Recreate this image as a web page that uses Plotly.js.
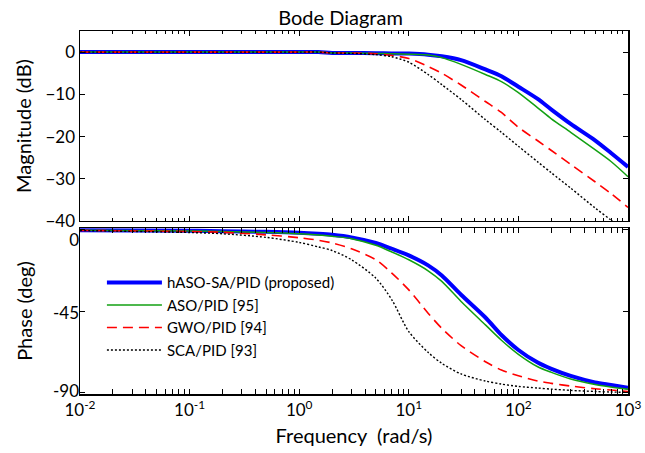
<!DOCTYPE html>
<html>
<head>
<meta charset="utf-8">
<script src="https://cdn.plot.ly/plotly-3.0.1.min.js"></script>
<style>html,body{margin:0;padding:0;background:#fff;}#chart{width:645px;height:453px;}</style>
</head>
<body>
<div id="chart"></div>
<script>
// Frequencies (rad/s)
const freq = [0.01, 0.1, 0.2, 0.5, 1, 1.5, 2, 3, 5, 7, 10, 15, 20, 30, 50, 70, 100, 150, 200, 300, 500, 700, 1000];

// Magnitude (dB)
const magHASO = [0, 0, 0, 0, 0, 0, -0.2, -0.2, -0.25, -0.3, -0.35, -0.6, -1.0, -1.9, -4.1, -5.7, -8.2, -11.1, -13.6, -17.0, -20.9, -23.9, -27.2];
const magASO  = [0, 0, 0, 0, 0, 0, -0.2, -0.2, -0.3, -0.4, -0.5, -0.7, -1.3, -2.9, -5.3, -7.0, -9.6, -13.2, -15.8, -19.0, -23.1, -25.9, -29.5];
const magGWO  = [0, 0, 0, 0, 0, 0, -0.2, -0.2, -0.4, -0.8, -1.5, -3.4, -5.0, -7.8, -11.7, -14.3, -17.8, -21.0, -23.3, -26.6, -30.7, -33.5, -36.8];
const magSCA  = [0, 0, 0, 0, 0, 0, -0.2, -0.3, -0.6, -1.1, -2.4, -5.3, -7.7, -11.2, -16.0, -19.0, -22.3, -26.0, -28.6, -32.2, -36.9, -39.8, -43.0];

// Phase (deg)
const phHASO = [-0.2, -0.5, -0.8, -1.1, -1.6, -2.2, -2.8, -4.2, -7.3, -10.5, -14.2, -19.7, -25.3, -36.0, -48.6, -58.3, -66.6, -73.6, -77.1, -81.0, -84.6, -86.0, -87.5];
const phASO  = [-0.2, -0.6, -1.0, -1.5, -2.2, -2.9, -3.6, -4.9, -8.6, -12.3, -16.6, -22.7, -28.6, -39.7, -52.7, -61.2, -69.0, -75.9, -79.0, -82.7, -85.7, -87.1, -88.4];
const phGWO  = [-0.3, -1.0, -1.4, -2.8, -4.4, -5.8, -7.3, -10.5, -16.6, -24.0, -33.3, -46.2, -54.6, -64.2, -73.1, -77.7, -80.9, -83.8, -85.1, -86.6, -88.1, -88.8, -89.6];
const phSCA  = [-0.4, -1.5, -2.2, -4.2, -7.0, -9.5, -11.5, -16.6, -26.8, -38.8, -56.4, -67.9, -74.0, -79.9, -83.8, -85.5, -86.8, -87.7, -88.3, -89.0, -89.6, -89.9, -90.1];

const seriesNames = ['hASO-SA/PID (proposed)', 'ASO/PID [95]', 'GWO/PID [94]', 'SCA/PID [93]'];
const xTickVals = [0.01, 0.1, 1, 10, 100, 1000];
const xTickText = ['10<sup>-2</sup>', '10<sup>-1</sup>', '10<sup>0</sup>', '10<sup>1</sup>', '10<sup>2</sup>', '10<sup>3</sup>'];
const magTicks = [0, -10, -20, -30, -40];
const phaseTicks = [0, -45, -90];
const phaseTickText = ['0', '-45', '-90'];
// label anchor positions (slightly inset from the ticks, as in the reference)
const phaseLabelPos = [-5.5, -46, -89.3];

const styles = [
  {color: '#0000ff', width: 4, dash: 'solid'},
  {color: '#12a012', width: 1.5, dash: 'solid'},
  {color: '#ff0000', width: 1.6, dash: '10px,6px'},
  {color: '#000000', width: 1.4, dash: '2px,2px'}
];
const mags = [magHASO, magASO, magGWO, magSCA];
const phases = [phHASO, phASO, phGWO, phSCA];

const traces = [];
mags.forEach((m, i) => traces.push({
  x: freq, y: m, xaxis: 'x', yaxis: 'y', type: 'scatter', mode: 'lines',
  line: Object.assign({shape: 'spline', smoothing: 0.8}, styles[i]),
  name: seriesNames[i], showlegend: false, hoverinfo: 'skip'
}));
phases.forEach((p, i) => traces.push({
  x: freq, y: p, xaxis: 'x2', yaxis: 'y2', type: 'scatter', mode: 'lines',
  line: Object.assign({shape: 'spline', smoothing: 0.8}, styles[i]),
  name: seriesNames[i], showlegend: true, hoverinfo: 'skip'
}));
// empty helper trace so the label-only overlay axis is drawn
traces.push({x: [], y: [], xaxis: 'x2', yaxis: 'y3', type: 'scatter', mode: 'lines', showlegend: false, hoverinfo: 'skip'});

const minorVals = [];
for (let e = -2; e < 3; e++) for (let k = 2; k <= 9; k++) minorVals.push(k * Math.pow(10, e));

const FONT = 'Lato, "Open Sans", sans-serif';
const xCommon = {
  type: 'log', range: [-2, 3], showgrid: false, zeroline: false,
  showline: true, linecolor: '#000', linewidth: 1.5, mirror: 'allticks',
  ticks: 'inside', ticklen: 5, tickcolor: '#000', tickwidth: 1,
  tickmode: 'array', tickvals: xTickVals,
  minor: {ticks: 'inside', ticklen: 3, tickcolor: '#000', tickwidth: 1, tickmode: 'array', tickvals: minorVals}
};
const yCommon = {
  showgrid: false, zeroline: false, showline: true, linecolor: '#000', linewidth: 1.5,
  mirror: 'allticks', ticks: 'inside', ticklen: 5, tickcolor: '#000', tickwidth: 1,
  tickmode: 'array', tickfont: {size: 17, color: '#000'}
};

const layout = {
  width: 645, height: 453,
  margin: {l: 80, r: 17, t: 31, b: 59},
  paper_bgcolor: '#fff', plot_bgcolor: '#fff',
  font: {family: FONT, color: '#000'},
  title: {text: 'Bode Diagram', font: {size: 20, color: '#000', family: FONT}, x: 0.528, xanchor: 'center', y: 0.96, yanchor: 'middle'},
  xaxis: Object.assign({}, xCommon, {anchor: 'y', showticklabels: false}),
  xaxis2: Object.assign({}, xCommon, {anchor: 'y2', matches: 'x', ticktext: xTickText, tickfont: {size: 17, color: '#000'},
    title: {text: 'Frequency  (rad/s)', font: {size: 20, color: '#000'}, standoff: 10}}),
  yaxis: Object.assign({}, yCommon, {domain: [0.4766, 1], range: [-40, 5], tickvals: magTicks,
    title: {text: 'Magnitude (dB)', font: {size: 20, color: '#000'}, standoff: 8}}),
  yaxis2: Object.assign({}, yCommon, {domain: [0, 0.4573], range: [-91, 1], tickvals: phaseTicks, showticklabels: false,
    title: {text: 'Phase (deg)', font: {size: 20, color: '#000'}, standoff: 40}}),
  yaxis3: {overlaying: 'y2', anchor: 'x2', side: 'left', range: [-91, 1], showgrid: false, zeroline: false, showline: false,
    ticks: '', tickmode: 'array', tickvals: phaseLabelPos, ticktext: phaseTickText, tickfont: {size: 17, color: '#000'}},
  legend: {x: 0.04, y: 0.352, xanchor: 'left', yanchor: 'top', bgcolor: 'rgba(255,255,255,0)',
    borderwidth: 0, font: {size: 15, color: '#000', family: FONT}, tracegroupgap: 0, itemwidth: 55},
  showlegend: true
};

Plotly.newPlot('chart', traces, layout, {staticPlot: true, displayModeBar: false});
</script>
</body>
</html>
